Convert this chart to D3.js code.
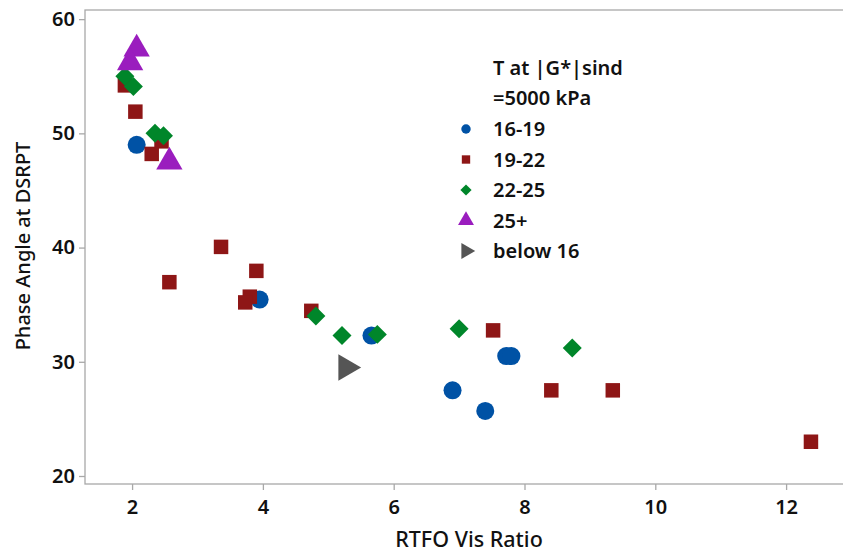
<!DOCTYPE html>
<html><head><meta charset="utf-8">
<script src="https://cdn.jsdelivr.net/npm/d3@7"></script>
<style>
body{margin:0;background:#fff;}
text{font-family:"Noto Sans","Open Sans",sans-serif;fill:#111;}
</style></head>
<body><svg id="c" width="843" height="553"></svg>
<script>
const groups = ["16-19","19-22","22-25","25+","below 16"];
const colors = ["#0052A5","#8E1616","#00862A","#9A1DBE","#555555"];
const xTicks = [2,4,6,8,10,12];
const yTicks = [20,30,40,50,60];
const x16_19 = [2.07,3.95,5.66,6.90,7.40,7.72,7.80];
const y16_19 = [49.0,35.45,32.3,27.5,25.7,30.5,30.5];
const x19_22 = [1.89,2.05,2.30,2.45,2.57,3.36,3.90,3.80,3.73,4.74,7.52,8.41,9.35,12.38];
const y19_22 = [54.2,51.9,48.2,49.3,36.97,40.06,37.96,35.7,35.2,34.46,32.75,27.5,27.5,23.0];
const x22_25 = [1.89,2.02,2.35,2.48,4.81,5.21,5.75,7.00,8.73];
const y22_25 = [55.0,54.1,50.0,49.8,34.0,32.3,32.4,32.9,31.2];
const x25p = [2.07,1.97,2.57];
const y25p = [57.4,56.2,47.5];
const xBelow16 = [5.27];
const yBelow16 = [29.5];
const seriesX = [x16_19,x19_22,x22_25,x25p,xBelow16];
const seriesY = [y16_19,y19_22,y22_25,y25p,yBelow16];

const svg = d3.select("#c");
const L=85, T=10, R=843, B=484;
const x = d3.scaleLinear().domain([1.28,12.87]).range([L,R]);
const y = d3.scaleLinear().domain([19.3,60.8]).range([B,T]);

svg.append("rect").attr("x",L).attr("y",T).attr("width",R-L+2).attr("height",B-T)
  .attr("fill","none").attr("stroke","#a8a8a8").attr("stroke-width",1.3);

const xa = svg.append("g").attr("transform",`translate(0,${B})`)
  .call(d3.axisBottom(x).tickValues(xTicks).tickSize(6).tickPadding(10).tickFormat(d3.format("d")));
const ya = svg.append("g").attr("transform",`translate(${L},0)`)
  .call(d3.axisLeft(y).tickValues(yTicks).tickSize(6).tickPadding(4).tickFormat(d3.format("d")));
[xa,ya].forEach(a=>{
  a.select(".domain").remove();
  a.selectAll(".tick line").attr("stroke","#a8a8a8").attr("stroke-width",1.3);
  a.selectAll(".tick text").style("font-size","20px").style("font-weight","600").attr("fill","#111");
});

svg.append("text").attr("x",469).attr("y",547).attr("text-anchor","middle")
  .style("font-size","21.5px").style("font-weight","500").text("RTFO Vis Ratio");
svg.append("text").attr("transform","translate(30,246) rotate(-90)").attr("text-anchor","middle")
  .style("font-size","20px").style("font-weight","500").text("Phase Angle at DSRPT");

const shapes = [d3.symbolCircle,d3.symbolSquare,d3.symbolDiamond2,d3.symbolTriangle,d3.symbolTriangle];
const sizes = [255,210,230,300,300];
function sym(i,s){ return d3.symbol().type(shapes[i]).size(s)(); }
function rot(i){ return i===4 ? 90 : 0; }

groups.forEach((g,i)=>{
  const gg = svg.append("g");
  seriesX[i].forEach((xv,j)=>{
    gg.append("path").attr("d",sym(i,sizes[i]))
      .attr("transform",`translate(${x(xv)},${y(seriesY[i][j])}) rotate(${rot(i)})`)
      .attr("fill",colors[i]);
  });
});

// legend
const lg = svg.append("g");
lg.append("text").attr("x",493).attr("y",75).style("font-size","20px").style("font-weight","600").text("T at |G*|sind");
lg.append("text").attr("x",493).attr("y",105).style("font-size","20px").style("font-weight","600").text("=5000 kPa");
const lsizes=[70,70,80,110,110];
groups.forEach((g,i)=>{
  const yy = 129 + i*30.5;
  lg.append("path").attr("d",sym(i,lsizes[i]))
    .attr("transform",`translate(466,${yy}) rotate(${rot(i)})`).attr("fill",colors[i]);
  lg.append("text").attr("x",493).attr("y",yy+7).style("font-size","20px").style("font-weight","600").text(g);
});
</script></body></html>
